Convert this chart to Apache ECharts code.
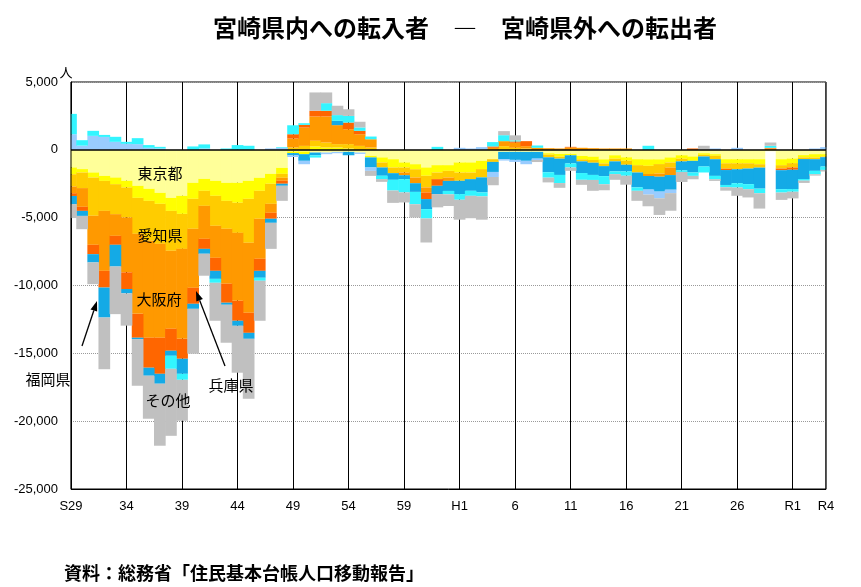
<!DOCTYPE html>
<html><head><meta charset="utf-8">
<script src="https://cdn.jsdelivr.net/npm/echarts@6/dist/echarts.min.js"></script>
<style>html,body{margin:0;padding:0;background:#fff;}#c{width:861px;height:587px;}</style>
</head><body><div id="c"></div>
<script>
// Year categories (Showa 29 .. Reiwa 4)
const years = ['S29','S30','S31','S32','S33','S34','S35','S36','S37','S38','S39','S40','S41','S42','S43','S44','S45','S46','S47','S48','S49','S50','S51','S52','S53','S54','S55','S56','S57','S58','S59','S60','S61','S62','S63',
'H1','H2','H3','H4','H5','H6','H7','H8','H9','H10','H11','H12','H13','H14','H15','H16','H17','H18','H19','H20','H21','H22','H23','H24','H25','H26','H27','H28','H29','H30',
'R1','R2','R3','R4'];
// Which categories carry a visible tick label, and the text shown
const tickCats   = ['S29','S34','S39','S44','S49','S54','S59','H1','H6','H11','H16','H21','H26','R1','R4'];
const tickLabels = ['S29','34','39','44','49','54','59','H1','6','11','16','21','26','R1','R4'];

// Net migration (in - out) per destination, persons
const tokyo = [-1300,-1420,-1670,-1920,-2040,-2280,-2650,-2870,-3170,-3540,-3390,-2430,-2140,-2280,-2430,-2430,-2280,-2060,-1770,-1330,
-120,-120,-200,-200,-150,-150,-200,-440,-560,-690,-930,-1060,-1300,-1130,-1130,-930,-930,-810,-690,-150,
-150,-150,-150,-250,-300,-300,-450,-500,-700,-400,-550,-690,-700,-700,-560,-400,-490,-250,-320,-690,
-690,-690,-690,-100,-690,-640,-390,-320,-320];
const kanto = [-500,-250,-370,-370,-490,-490,-890,-890,-810,-960,-1330,-1180,-880,-1110,-1330,-1470,-1330,-960,-730,-440,
-120,-200,250,170,170,100,0,-120,-370,-610,-370,-370,-610,-540,-420,-740,-740,-610,0,0,
0,0,0,-100,-200,-100,-250,-250,-300,-250,-250,-440,-480,-350,-370,-250,-320,-120,-120,-300,
-300,-300,-370,0,-440,-340,-170,-250,-170];
const aichi = [-900,-1150,-2820,-2210,-2210,-2210,-2650,-2940,-2950,-2940,-2580,-2210,-1110,-2210,-2060,-2220,-3240,-2060,-1480,-290,
170,290,420,370,250,320,290,170,-370,-420,-370,-610,-860,-490,-490,-610,-490,-610,-200,270,
150,100,0,-200,-150,0,-150,-200,-200,-200,-300,-540,-600,-700,-370,-200,0,-120,-250,-400,
-440,-390,-250,0,-250,-320,-120,-120,-50];
const osaka = [-500,-1380,-2140,-4420,-1600,-4050,-5900,-7150,-6920,-5750,-6630,-4350,-2430,-2360,-4050,-5010,-5160,-2950,-660,-220,
660,1350,1790,1920,1400,1100,860,610,0,0,-200,-420,-370,0,-250,0,0,0,150,370,
370,170,150,120,100,170,150,120,100,100,100,0,-150,-230,-560,0,0,0,0,0,
0,0,0,100,0,0,0,0,0];
const hyogo = [-200,-300,-690,-1230,-660,-1230,-1760,-2210,-2660,-1620,-1470,-1180,-740,-960,-1400,-1470,-1480,-890,-440,-220,
320,200,420,420,0,490,250,0,0,0,0,0,-490,-490,0,0,0,0,100,0,
100,370,0,0,0,50,0,0,0,0,0,0,0,0,0,0,100,0,0,-100,
0,0,0,50,-120,-170,0,0,0];
const fukuoka = [-600,-370,-610,-2210,-1600,-320,-100,-590,-730,-370,-1110,-370,-360,-590,-150,-370,-440,-510,-300,-150,
-170,-490,-200,0,320,-250,0,-740,-610,-490,-290,-640,-740,-610,-740,-980,-860,-1110,-740,-540,
-590,-660,-500,-1100,-1200,-600,-860,-900,-740,-740,-490,-1100,-1000,-1100,-1080,-660,-860,-740,-1230,-1100,
-1030,-1150,-1550,0,-1400,-1420,-1470,-860,-690];
const kumamoto = [1150,310,1030,950,590,440,420,150,100,0,0,0,100,0,0,0,0,0,100,150,
-120,-250,0,-120,-100,0,-100,-250,0,0,0,0,0,0,0,150,100,200,-370,-100,
-150,-250,-100,0,0,0,0,0,0,0,0,0,-370,-490,-250,0,0,0,100,0,
150,0,0,0,0,0,0,100,200];
const kagoshima = [1500,400,370,150,370,150,440,200,120,-960,-440,250,300,-290,100,350,300,-220,0,50,
660,120,-170,560,420,490,250,200,-250,-790,-980,-910,-690,220,-250,-420,-370,-290,320,440,
80,0,170,-400,-600,-300,-500,-370,-600,-200,-320,-250,300,0,0,-120,-250,-440,-250,-170,
-320,-370,-340,150,-250,-200,-120,-250,-250];
const others = [-1030,-980,-1600,-3810,-3510,-2380,-3440,-3170,-4570,-4940,-3020,-3310,-1620,-2800,-2800,-3460,-4420,-2950,-1920,-1110,
0,0,1350,790,690,490,420,-370,-200,-910,-740,-980,-1770,-980,-860,-1470,-1650,-1720,-610,300,
370,0,-150,-350,-350,-250,-370,-800,-440,-420,-660,-740,-860,-1230,-1300,-740,-250,300,-120,-250,
-610,-610,-1130,240,-540,-490,-170,-100,-120];

const layers = [
  {name:'東京都', data:tokyo, color:'#FFFF99'},
  {name:'東京圏（東京都除く）', data:kanto, color:'#FFFF00'},
  {name:'愛知県', data:aichi, color:'#FFCC00'},
  {name:'大阪府', data:osaka, color:'#FF9900'},
  {name:'兵庫県', data:hyogo, color:'#FF6600'},
  {name:'福岡県', data:fukuoka, color:'#14AAE6'},
  {name:'熊本県', data:kumamoto, color:'#99CCFF'},
  {name:'鹿児島県', data:kagoshima, color:'#33F5FF'},
  {name:'その他', data:others, color:'#C0C0C0'}
];

const FONT = '"Noto Sans CJK JP", "Noto Sans", sans-serif';
const GL = 71, GR = 35, GT = 82, GB = 98, W = 861, H = 587;
const chart = echarts.init(document.getElementById('c'), null, {renderer:'canvas'});

function arrow(x1,y1,x2,y2){
  const dx=x2-x1, dy=y2-y1, L=Math.sqrt(dx*dx+dy*dy), ux=dx/L, uy=dy/L;
  const bx=x2-ux*10, by=y2-uy*10, px=-uy*3.5, py=ux*3.5;
  return [
    {type:'line', shape:{x1:x1,y1:y1,x2:bx,y2:by}, style:{stroke:'#000', lineWidth:1.3}, z:100},
    {type:'polygon', shape:{points:[[x2,y2],[bx+px,by+py],[bx-px,by-py]]}, style:{fill:'#000'}, z:100}
  ];
}
function label(text,x,y,size,weight,align){
  return {type:'text', x:x, y:y, z:100, style:{text:text, fill:'#000', font:(weight||'normal')+' '+size+'px '+FONT, textAlign:align||'center', textVerticalAlign:'middle'}};
}
// white masks trimming the half-bars that fall outside the plot frame
function masks(){
  return [
    {type:'rect', shape:{x:59, y:GT-2, width:GL-0.5-59, height:H-GT-GB+4}, style:{fill:'#fff'}, z:50},
    {type:'rect', shape:{x:W-GR+0.5, y:GT-2, width:20, height:H-GT-GB+4}, style:{fill:'#fff'}, z:50},
    {type:'line', shape:{x1:GL, y1:GT, x2:GL, y2:H-GB}, style:{stroke:'#000', lineWidth:1}, z:51},
    {type:'line', shape:{x1:W-GR, y1:GT, x2:W-GR, y2:H-GB}, style:{stroke:'#000', lineWidth:1}, z:51}
  ];
}

const series = layers.map((l,i)=>({
  name:l.name, type:'bar', stack:'net', barWidth:11.7, clip:true,
  data:l.data, itemStyle:{color:l.color},
  emphasis:{disabled:true}, silent:true,
  markLine: i===layers.length-1 ? {
    silent:true, symbol:['none','none'], label:{show:false}, z:5,
    lineStyle:{color:'#000', width:1.5, type:'solid'},
    data:[{yAxis:0}]
  } : undefined
}));

chart.setOption({
  animation:false,
  backgroundColor:'#fff',
  grid:{left:GL, right:GR, top:GT, bottom:GB, show:true, borderColor:'#000', borderWidth:1, backgroundColor:'transparent', outerBoundsMode:'none'},
  xAxis:{
    type:'category', data:years, boundaryGap:false,
    axisLine:{show:true, onZero:false, lineStyle:{color:'#000', width:1}},
    axisTick:{show:false},
    axisLabel:{interval:0, margin:11, color:'#000', fontSize:13, fontFamily:'"Liberation Sans", Arial, sans-serif',
      formatter:function(v){ const k=tickCats.indexOf(v); return k>=0 ? tickLabels[k] : ''; }},
    splitLine:{show:true, interval:function(i,v){ return tickCats.indexOf(v)>0 && v!=='R4'; }, lineStyle:{color:'#000', width:1}}
  },
  yAxis:{
    type:'value', min:-25000, max:5000, interval:5000,
    axisLine:{show:true, lineStyle:{color:'#000', width:1}},
    axisTick:{show:false},
    axisLabel:{margin:13, color:'#000', fontSize:13, fontFamily:'"Liberation Sans", Arial, sans-serif',
      formatter:function(v){ return v.toLocaleString('en-US'); }},
    splitLine:{show:true, lineStyle:{color:'#9a9a9a', width:1, type:'dotted'}}
  },
  series:series,
  graphic:[].concat(
    masks(),
    [label('宮崎県内への転入者　―　宮崎県外への転出者',465,28,24,'bold'),
     label('人',66,72,13),
     label('東京都',160,173,15),
     label('愛知県',160,235,15),
     label('大阪府',159,299,15),
     label('福岡県',48,379,15),
     label('その他',168,400,15),
     label('兵庫県',231,385,15),
     label('資料：総務省「住民基本台帳人口移動報告」',64,573,18,'bold','left')],
    arrow(82,346,97,301),
    arrow(225,366,196,291)
  )
});
</script></body></html>
